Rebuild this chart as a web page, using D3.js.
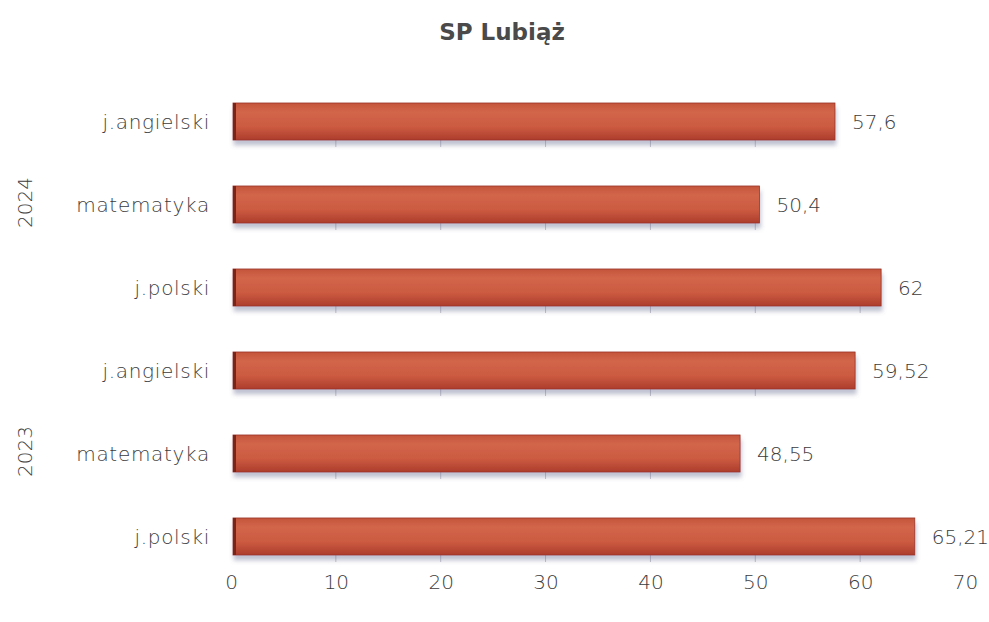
<!DOCTYPE html>
<html>
<head>
<meta charset="utf-8">
<script src="https://cdn.jsdelivr.net/npm/d3@7"></script>
<style>
  body { margin: 0; background: #fff; }
  text { font-family: "DejaVu Sans", sans-serif; font-weight: 200; fill: #3c3c3c; }
</style>
</head>
<body>
<script>
// data, top to bottom as in the picture
var years = ["2024", "2024", "2024", "2023", "2023", "2023"];
var subjects = ["j.angielski", "matematyka", "j.polski", "j.angielski", "matematyka", "j.polski"];
var values = [57.6, 50.4, 62, 59.52, 48.55, 65.21];
var valueLabels = ["57,6", "50,4", "62", "59,52", "48,55", "65,21"];
var ticks = [0, 10, 20, 30, 40, 50, 60, 70];

var W = 989, H = 622;
var svg = d3.select("body").append("svg")
    .attr("width", W)
    .attr("height", H);

var rows = values.map(function(v, i) {
    return {key: i, year: years[i], subject: subjects[i], value: v, label: valueLabels[i]};
});

var x = d3.scaleLinear().domain([0, 70]).range([231, 965]);
var y = d3.scaleBand()
    .domain(rows.map(function(d) { return d.key; }))
    .range([61.5, 596.5])
    .paddingInner(0.554)
    .paddingOuter(0.5);

var defs = svg.append("defs");
var grad = defs.append("linearGradient")
    .attr("id", "barGrad")
    .attr("x1", 0).attr("y1", 0).attr("x2", 0).attr("y2", 1);
grad.append("stop").attr("offset", "0%").attr("stop-color", "#c4553c");
grad.append("stop").attr("offset", "25%").attr("stop-color", "#d2664a");
grad.append("stop").attr("offset", "65%").attr("stop-color", "#cb5a41");
grad.append("stop").attr("offset", "100%").attr("stop-color", "#ad3c2c");

var shadow = defs.append("filter").attr("id", "shadow")
    .attr("x", "-5%").attr("y", "-20%").attr("width", "110%").attr("height", "160%");
shadow.append("feGaussianBlur").attr("in", "SourceAlpha").attr("stdDeviation", 2);
shadow.append("feOffset").attr("dx", 1).attr("dy", 5).attr("result", "off");
shadow.append("feFlood").attr("flood-color", "#62668e").attr("flood-opacity", 0.4);
shadow.append("feComposite").attr("in2", "off").attr("operator", "in");
var merge = shadow.append("feMerge");
merge.append("feMergeNode");
merge.append("feMergeNode").attr("in", "SourceGraphic");

// title
svg.append("text")
    .attr("x", 502).attr("y", 40)
    .attr("text-anchor", "middle")
    .style("font-size", "23px")
    .style("font-weight", "bold")
    .style("fill", "#4a4a4a")
    .text("SP Lubiąż");

// faint tick marks under the bars
var grid = svg.append("g");
rows.forEach(function(d) {
    grid.selectAll(null)
        .data(ticks.filter(function(t) { return t > 0 && t < d.value; }))
        .enter()
        .append("line")
        .attr("x1", function(t) { return x(t); })
        .attr("x2", function(t) { return x(t); })
        .attr("y1", y(d.key) + y.bandwidth())
        .attr("y2", y(d.key) + y.bandwidth() + 7)
        .attr("stroke", "#c4c4cc")
        .attr("stroke-width", 1);
});

var bar = svg.append("g").selectAll("g")
    .data(rows)
    .enter()
    .append("g");

bar.append("rect")
    .attr("x", x(0) + 2)
    .attr("y", function(d) { return y(d.key); })
    .attr("width", function(d) { return x(d.value) - x(0) - 2; })
    .attr("height", y.bandwidth())
    .attr("fill", "url(#barGrad)")
    .attr("stroke", "#983326")
    .attr("stroke-width", 0.8)
    .attr("filter", "url(#shadow)");

// dark left edge
bar.append("rect")
    .attr("x", x(0) + 2)
    .attr("y", function(d) { return y(d.key); })
    .attr("width", 3)
    .attr("height", y.bandwidth())
    .attr("fill", "#7a2418");

bar.append("text")
    .attr("x", function(d) { return x(d.value) + 17; })
    .attr("y", function(d) { return y(d.key) + y.bandwidth() / 2; })
    .attr("dy", "0.36em")
    .style("font-size", "20px")
    .text(function(d) { return d.label; });

// category labels
svg.append("g").selectAll("text")
    .data(rows)
    .enter()
    .append("text")
    .attr("x", 210)
    .attr("y", function(d) { return y(d.key) + y.bandwidth() / 2; })
    .attr("dy", "0.36em")
    .attr("text-anchor", "end")
    .style("font-size", "20px")
    .style("letter-spacing", "0.7px")
    .text(function(d) { return d.subject; });

// year labels, rotated
var yearGroups = d3.groups(rows, function(d) { return d.year; });
svg.append("g").selectAll("text")
    .data(yearGroups)
    .enter()
    .append("text")
    .attr("transform", function(g) {
        var ks = g[1].map(function(d) { return d.key; });
        var cy = (y(ks[0]) + y(ks[ks.length - 1]) + y.bandwidth()) / 2;
        return "translate(32," + (cy - 2) + ") rotate(-90)";
    })
    .attr("text-anchor", "middle")
    .style("font-size", "20px")
    .text(function(g) { return g[0]; });

// x axis
var xAxis = svg.append("g")
    .attr("transform", "translate(0,569)")
    .call(d3.axisBottom(x).tickValues(ticks).tickSize(0).tickPadding(6));
xAxis.select(".domain").remove();
xAxis.selectAll("text")
    .style("font-size", "20px")
    .style("fill", "#3c3c3c")
    .style("font-weight", "200")
    .style("font-family", "'DejaVu Sans', sans-serif");
</script>
</body>
</html>
